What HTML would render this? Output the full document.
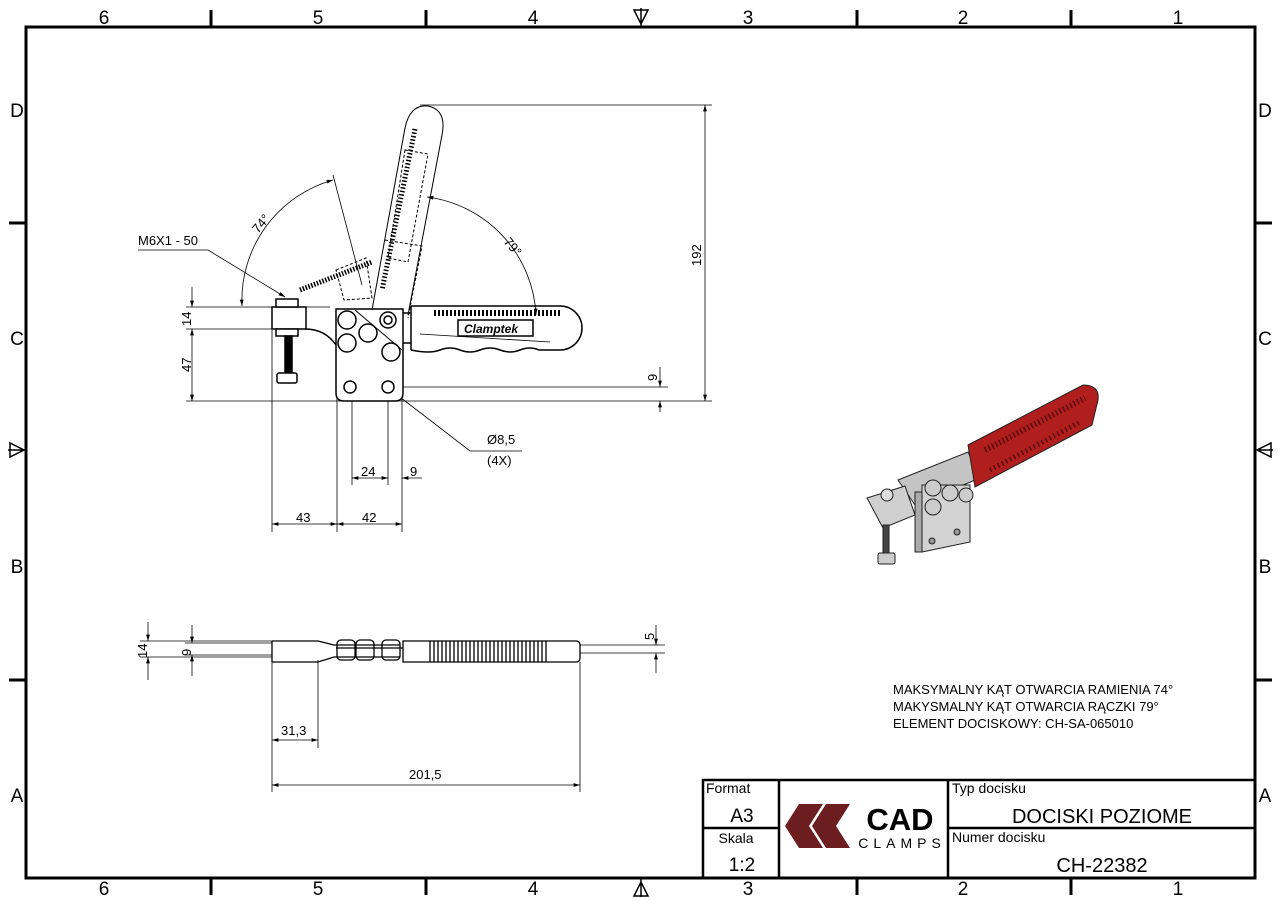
<!DOCTYPE html>
<html><head><meta charset="utf-8"><style>
html,body{margin:0;padding:0;background:#fff}
svg{display:block}
text{font-family:"Liberation Sans","DejaVu Sans",sans-serif;fill:#000}
</style></head><body>
<svg width="1281" height="901" viewBox="0 0 1281 901" xmlns="http://www.w3.org/2000/svg">
<defs>
<marker id="a" viewBox="0 0 10 6" refX="10" refY="3" markerWidth="8" markerHeight="5" orient="auto-start-reverse"><path d="M0,0L10,3L0,6z" fill="#000"/></marker>
</defs>
<rect x="26" y="27" width="1229" height="851" fill="none" stroke="#000" stroke-width="3"/>
<g stroke="#000" stroke-width="3">
<line x1="211" y1="10" x2="211" y2="27"/><line x1="426" y1="10" x2="426" y2="27"/><line x1="857" y1="10" x2="857" y2="27"/><line x1="1071" y1="10" x2="1071" y2="27"/>
<line x1="211" y1="878" x2="211" y2="895"/><line x1="426" y1="878" x2="426" y2="895"/><line x1="857" y1="878" x2="857" y2="895"/><line x1="1071" y1="878" x2="1071" y2="895"/>
<line x1="9" y1="223" x2="26" y2="223"/><line x1="9" y1="680" x2="26" y2="680"/>
<line x1="1255" y1="223" x2="1272" y2="223"/><line x1="1255" y1="680" x2="1272" y2="680"/>
</g>
<g stroke="#000" stroke-width="1.5" fill="none">
<path d="M641,8V27M634,10H648L641,24Z"/><path d="M641,878V897M634,896H648L641,882Z"/>
<path d="M8,450H26M10,443V457L24,450Z"/><path d="M1255,450H1273M1271,443V457L1257,450Z"/>
</g>
<g font-size="19" text-anchor="middle">
<text x="104" y="24">6</text><text x="318" y="24">5</text><text x="533" y="24">4</text><text x="748" y="24">3</text><text x="963" y="24">2</text><text x="1178" y="24">1</text>
<text x="104" y="895">6</text><text x="318" y="895">5</text><text x="533" y="895">4</text><text x="748" y="895">3</text><text x="963" y="895">2</text><text x="1178" y="895">1</text>
<text x="17" y="117">D</text><text x="17" y="345">C</text><text x="17" y="573">B</text><text x="17" y="802">A</text>
<text x="1265" y="117">D</text><text x="1265" y="345">C</text><text x="1265" y="573">B</text><text x="1265" y="802">A</text>
</g>
<g stroke="#000" stroke-width="2.5" fill="none">
<rect x="703" y="780" width="552" height="98"/>
<line x1="779" y1="780" x2="779" y2="878"/><line x1="948" y1="780" x2="948" y2="878"/>
<line x1="703" y1="828" x2="779" y2="828"/><line x1="948" y1="828" x2="1255" y2="828"/>
</g>
<text x="706" y="793" font-size="14">Format</text>
<text x="742" y="822" font-size="19" text-anchor="middle">A3</text>
<text x="736" y="843" font-size="14" text-anchor="middle">Skala</text>
<text x="742" y="871" font-size="19" text-anchor="middle">1:2</text>
<text x="952" y="793" font-size="14">Typ docisku</text>
<text x="1102" y="823" font-size="20" text-anchor="middle">DOCISKI POZIOME</text>
<text x="952" y="842" font-size="14">Numer docisku</text>
<text x="1102" y="872" font-size="20" text-anchor="middle">CH-22382</text>
<path d="M799,804H823L809,826L823,848H799L785,826Z" fill="#6b1d1f"/>
<path d="M826,804H850L836,826L850,848H826L812,826Z" fill="#6b1d1f"/>
<text x="900" y="830" font-size="31" font-weight="bold" text-anchor="middle">CAD</text>
<text x="902" y="848" font-size="14" text-anchor="middle" letter-spacing="5">CLAMPS</text>
<g font-size="13"><text x="893" y="694">MAKSYMALNY KĄT OTWARCIA RAMIENIA 74°</text>
<text x="893" y="711">MAKYSMALNY KĄT OTWARCIA RĄCZKI 79°</text>
<text x="893" y="728">ELEMENT DOCISKOWY: CH-SA-065010</text></g>

<g stroke="#000" stroke-width="0.8" fill="none">
<line x1="186" y1="401" x2="712" y2="401"/>
<line x1="186" y1="307" x2="330" y2="307"/>
<line x1="186" y1="329" x2="272" y2="329"/>
<line x1="420" y1="105" x2="712" y2="105"/>
<line x1="400" y1="387" x2="668" y2="387"/>
<line x1="272" y1="330" x2="272" y2="532"/><line x1="337" y1="330" x2="337" y2="532"/>
<line x1="352" y1="370" x2="352" y2="485"/><line x1="388" y1="370" x2="388" y2="485"/>
<line x1="402" y1="370" x2="402" y2="532"/>
<line x1="192" y1="287" x2="192" y2="307" marker-end="url(#a)"/>
<line x1="192" y1="329" x2="192" y2="401" marker-start="url(#a)" marker-end="url(#a)"/>
<line x1="705" y1="105" x2="705" y2="401" marker-start="url(#a)" marker-end="url(#a)"/>
<line x1="660" y1="367" x2="660" y2="387" marker-end="url(#a)"/>
<line x1="660" y1="401" x2="660" y2="412" marker-start="url(#a)"/>
<line x1="272" y1="524" x2="337" y2="524" marker-start="url(#a)" marker-end="url(#a)"/>
<line x1="337" y1="524" x2="402" y2="524" marker-start="url(#a)" marker-end="url(#a)"/>
<line x1="352" y1="478" x2="388" y2="478" marker-start="url(#a)" marker-end="url(#a)"/>
<line x1="402" y1="478" x2="422" y2="478" marker-start="url(#a)"/>
<path d="M242,306A125,125 0 0 1 333,180" marker-start="url(#a)" marker-end="url(#a)"/>
<line x1="333" y1="175" x2="362" y2="285"/>
<path d="M427,197A125,125 0 0 1 536,315" marker-start="url(#a)" marker-end="url(#a)"/>
<line x1="420" y1="334" x2="550" y2="342"/>
<path d="M138,250H208L285,297" marker-end="url(#a)"/>
<path d="M522,451H470L396,394" marker-end="url(#a)"/>
<line x1="370" y1="377" x2="384" y2="384" marker-end="url(#a)"/>
</g>
<g font-size="13">
<text x="138" y="245">M6X1 - 50</text>
<text x="487" y="444">Ø8,5</text><text x="487" y="465">(4X)</text>
<text x="296" y="522">43</text><text x="362" y="522">42</text>
<text x="361" y="476">24</text><text x="410" y="476">9</text>
<text transform="translate(191,326) rotate(-90)">14</text>
<text transform="translate(191,372) rotate(-90)">47</text>
<text transform="translate(701,266) rotate(-90)">192</text>
<text transform="translate(657,381) rotate(-90)">9</text>
<text transform="translate(258,234) rotate(-50)">74°</text>
<text transform="translate(503,242) rotate(50)">79°</text>
</g>
<g stroke="#000" stroke-width="1.5" fill="#fff">
<path d="M336,309H403V393Q403,401 395,401H344Q336,401 336,393Z"/>
<path d="M305,329Q325,329 336,345"/>
<rect x="272" y="307" width="34" height="22"/>
<rect x="276" y="299" width="22" height="8"/>
<rect x="276" y="329" width="22" height="7"/>
<rect x="285" y="336" width="7" height="38" fill="#000"/>
<rect x="277" y="373" width="20" height="10" rx="2"/>
<path d="M411,306H560A22,22 0 0 1 560,350H539Q530,346 520,350Q510,354 500,350Q490,346 480,350Q470,354 460,350Q450,346 440,350Q430,354 411,350" fill="none"/>
<line x1="411" y1="306" x2="411" y2="350"/>
<line x1="403" y1="313" x2="411" y2="313"/><line x1="403" y1="343" x2="411" y2="343"/>
<rect x="458" y="320" width="75" height="16" fill="none"/>
<path d="M355,310L402,350" stroke-width="1"/>
<circle cx="347" cy="320" r="9"/><circle cx="347" cy="343" r="9"/>
<circle cx="368" cy="333" r="9"/><circle cx="388" cy="320" r="8"/><circle cx="388" cy="320" r="4"/>
<circle cx="391" cy="352" r="9"/>
<circle cx="350" cy="387" r="6"/><circle cx="388" cy="387" r="6"/>
</g>
<path d="M434,313H562" stroke="#000" stroke-dasharray="2 2" stroke-width="6"/>
<text x="464" y="333" font-size="12" font-style="italic" font-weight="bold" font-family="Liberation Serif">Clamptek</text>
<g stroke="#000" stroke-width="1" fill="none">
<path d="M372,310L405,128Q410,104 428,106Q447,110 442,135L408,315"/>
<path d="M415,129L382,290" stroke-width="5" stroke-dasharray="1.5 2"/>
<path d="M405,150L428,154L408,262L388,258Z" stroke-dasharray="3 2"/>
<path d="M300,290L372,262" stroke-width="5" stroke-dasharray="1.5 1.5"/>
<path d="M336,270L366,258L372,298L344,300Z" stroke-dasharray="3 2"/>
<path d="M385,240L422,246L408,318" stroke-dasharray="3 2"/>
</g>
<g stroke="#000" stroke-width="0.8" fill="none">
<line x1="140" y1="641" x2="272" y2="641"/><line x1="140" y1="657" x2="272" y2="657"/>
<line x1="185" y1="643" x2="272" y2="643"/><line x1="185" y1="655" x2="272" y2="655"/>
<line x1="580" y1="645" x2="665" y2="645"/><line x1="580" y1="653" x2="665" y2="653"/>
<line x1="148" y1="622" x2="148" y2="641" marker-end="url(#a)"/><line x1="148" y1="657" x2="148" y2="680" marker-start="url(#a)"/>
<line x1="192" y1="625" x2="192" y2="643" marker-end="url(#a)"/><line x1="192" y1="655" x2="192" y2="676" marker-start="url(#a)"/>
<line x1="656" y1="625" x2="656" y2="645" marker-end="url(#a)"/><line x1="656" y1="653" x2="656" y2="673" marker-start="url(#a)"/>
<line x1="272" y1="660" x2="272" y2="792"/><line x1="318" y1="660" x2="318" y2="748"/><line x1="580" y1="662" x2="580" y2="792"/>
<line x1="272" y1="740" x2="318" y2="740" marker-start="url(#a)" marker-end="url(#a)"/>
<line x1="272" y1="785" x2="580" y2="785" marker-start="url(#a)" marker-end="url(#a)"/>
</g>
<g stroke="#000" stroke-width="1.3" fill="none">
<path d="M272,641H318L334,645H400M272,662H318L334,657H400M272,641V662"/>
<line x1="336" y1="648" x2="403" y2="648"/>
<rect x="337" y="640" width="18" height="20" rx="4"/><rect x="356" y="640" width="18" height="20" rx="4"/><rect x="382" y="640" width="18" height="20" rx="4"/>
<path d="M403,641H576Q580,641 580,645V658Q580,662 576,662H403Z"/>
<path d="M430,641V662M434,641V662M438,641V662M442,641V662M446,641V662M450,641V662M454,641V662M458,641V662M462,641V662M466,641V662M470,641V662M474,641V662M478,641V662M482,641V662M486,641V662M490,641V662M494,641V662M498,641V662M502,641V662M506,641V662M510,641V662M514,641V662M518,641V662M522,641V662M526,641V662M530,641V662M534,641V662M538,641V662M542,641V662M546,641V662"/>
</g>
<g font-size="13">
<text transform="translate(147,658) rotate(-90)">14</text>
<text transform="translate(191,656) rotate(-90)">9</text>
<text transform="translate(654,640) rotate(-90)">5</text>
<text x="281" y="735">31,3</text><text x="409" y="779">201,5</text>
</g>
<!-- 3D VIEW -->
<g stroke="#222" stroke-width="1">
<path d="M898,480L968,452L980,478L915,505Z" fill="#c4c4c4"/>
<path d="M968,445L1083,385Q1100,385 1098,400L1092,425L975,487Z" fill="#b01e1e"/>
<path d="M985,450L1085,398" stroke="#5a0b0b" stroke-width="6" stroke-dasharray="1.5 2.5"/>
<path d="M990,470L1080,422" stroke="#5a0b0b" stroke-width="5" stroke-dasharray="1.5 3"/>
<path d="M922,485H970V542L922,552Z" fill="#d3d3d3"/>
<path d="M915,492H922V552H915Z" fill="#aaa"/>
<circle cx="933" cy="488" r="8" fill="#ccc"/><circle cx="933" cy="507" r="8" fill="#ccc"/>
<circle cx="950" cy="493" r="8" fill="#ccc"/><circle cx="966" cy="495" r="7" fill="#ccc"/>
<circle cx="932" cy="541" r="3" fill="#999"/><circle cx="957" cy="532" r="3" fill="#999"/>
<path d="M867,498L905,486L915,515L883,528Z" fill="#cfcfcf"/>
<circle cx="887" cy="495" r="6" fill="#ddd"/>
<rect x="883" y="525" width="6" height="28" fill="#444"/>
<rect x="878" y="553" width="17" height="11" rx="2" fill="#ccc"/>
</g>
</svg>
</body></html>
